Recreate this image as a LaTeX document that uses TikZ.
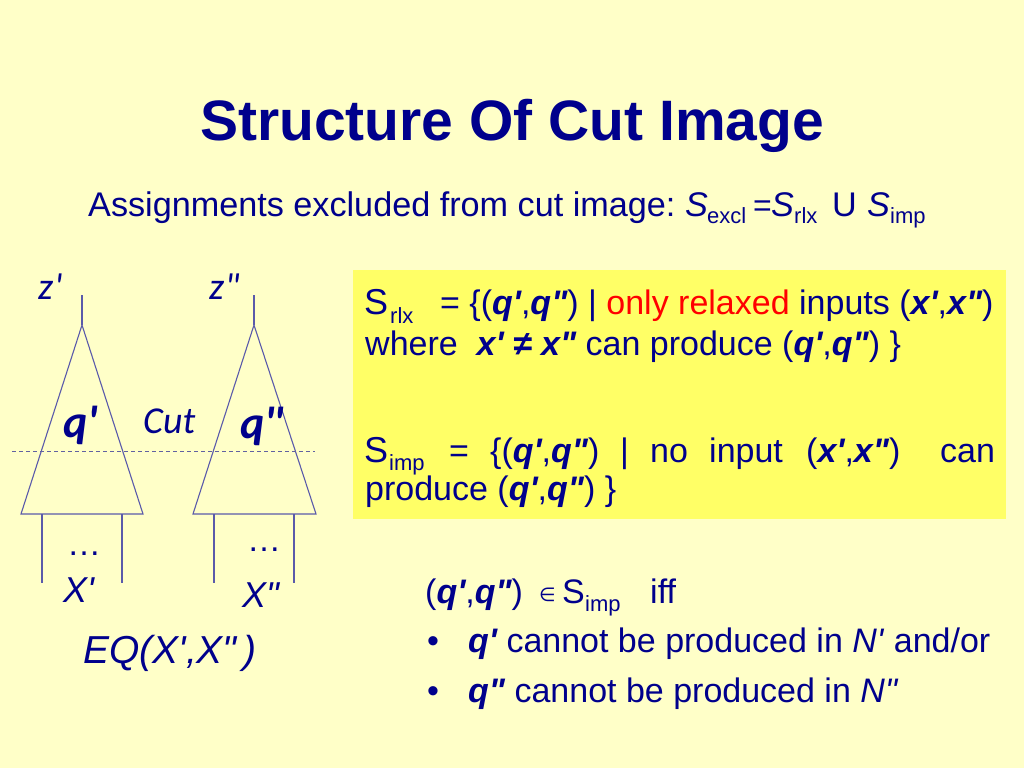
\documentclass[tikz,border=0pt]{standalone}
\usepackage{fontspec}
\newfontfamily\arial{Liberation Sans}
\newfontfamily\calib{Carlito}
\newfontfamily\djv{DejaVu Sans}
\definecolor{navy}{RGB}{0,0,140}
\definecolor{bgy}{RGB}{255,255,200}
\definecolor{boxy}{RGB}{255,255,102}
\definecolor{lnc}{RGB}{90,90,170}
\newcommand{\fs}[1]{\fontsize{#1}{#1}\selectfont}
\newcommand{\bq}[1]{{\bfseries\itshape #1}}
\begin{document}
\begin{tikzpicture}[x=1pt,y=-1pt,
  txt/.style={font=\arial\fs{34}, text=navy, anchor=base west, inner sep=0pt},
  sub/.style={font=\arial\fs{22}, text=navy, anchor=base west, inner sep=0pt},
  bigS/.style={font=\arial\fs{36}, text=navy, anchor=base west, inner sep=0pt},
  cal/.style={font=\calib\itshape\fs{38}, text=navy, anchor=base west, inner sep=0pt},
  tri/.style={draw=lnc, line width=1.1pt},
  cutline/.style={draw=lnc!80!gray, line width=0.9pt, dash pattern=on 4pt off 3pt}]
\useasboundingbox (0,0) rectangle (1024,768);
\fill[bgy] (0,0) rectangle (1024,768);
% title
\node[font=\arial\bfseries\fs{57}, text=navy, anchor=base, inner sep=0pt] (title) at (512,140) {Structure Of Cut Image};
% subtitle
\node[txt, font=\arial\fs{34.2}] (sub1) at (88,216) {Assignments excluded from cut image:};
\node[txt, font=\arial\itshape\fs{34.2}] (s1) at (685,216) {S};
\node[sub] (s1b) at (707,223) {excl};
\node[sub, font=\arial\fs{32}] (s1eq) at (753,216) {=};
\node[txt, font=\arial\itshape\fs{34.2}] (s2) at (771,216) {S};
\node[sub] (s2b) at (794,223) {rlx};
\node[txt, font=\arial\fs{34.2}] (s2u) at (832,216) {U};
\node[txt, font=\arial\itshape\fs{34.2}] (s3) at (867,216) {S};
\node[sub] (s3b) at (890,223) {imp};
% yellow box
\fill[boxy] (353,270) rectangle (1006,519);
\node[bigS] (r1) at (364,314) {S};
\node[sub] (r1b) at (390,323) {rlx};
\node[txt] (r1t) at (440,314) {= \{(\bq{q'},\bq{q"}) | \textcolor{red}{only relaxed} inputs (\bq{x'},\bq{x"})};
\node[txt] (r2t) at (365,355) {where\ \ \bq{x' ≠ x"} can produce (\bq{q'},\bq{q"}) \}};
\node[bigS] (i1) at (364,462) {S};
\node[sub] (i1b) at (389,470) {imp};
\node[txt] (i1eq) at (449,462) {=};
\node[txt] (i1a) at (490,462) {\{(\bq{q'},\bq{q"})};
\node[txt] (i1bar) at (620,462) {|};
\node[txt] (i1c) at (650,462) {no};
\node[txt] (i1d) at (709,462) {input};
\node[txt] (i1e) at (806,462) {(\bq{x'},\bq{x"})};
\node[txt] (i1f) at (940,462) {can};
\node[txt] (i2t) at (365,500) {produce (\bq{q'},\bq{q"}) \}};
% bottom right text
\node[txt] (b0) at (425,603) {(\bq{q'},\bq{q"})};
\node[txt, font=\djv\fs{19}] (b0in) at (539,601) {∈};
\node[txt] (b0s) at (562,603) {S};
\node[sub] (b0sb) at (585,611) {imp};
\node[txt] (b0iff) at (650,603) {iff};
\node[txt] (bul1) at (427,652) {•};
\node[txt] (b1) at (468,652) {\bq{q'} cannot be produced in \textit{N'} and/or};
\node[txt] (bul2) at (427,702) {•};
\node[txt] (b2) at (468,702) {\bq{q"} cannot be produced in \textit{N"}};
% left tree
\coordinate (lz) at (82,295);
\coordinate (la) at (82,325);
\coordinate (ll) at (21,514);
\coordinate (lr) at (143,514);
\draw[tri] (lz) -- (la);
\draw[tri] (la) -- (ll) -- (lr) -- cycle;
\coordinate (lw1) at (42,514); \coordinate (lw1e) at (42,583);
\coordinate (lw2) at (122,514); \coordinate (lw2e) at (122,583);
\draw[tri] (lw1) -- (lw1e);
\draw[tri] (lw2) -- (lw2e);
% right tree
\coordinate (rz) at (254,295);
\coordinate (ra) at (254,325);
\coordinate (rl) at (193,514);
\coordinate (rr) at (316,514);
\draw[tri] (rz) -- (ra);
\draw[tri] (ra) -- (rl) -- (rr) -- cycle;
\coordinate (rw1) at (214,514); \coordinate (rw1e) at (214,583);
\coordinate (rw2) at (294,514); \coordinate (rw2e) at (294,583);
\draw[tri] (rw1) -- (rw1e);
\draw[tri] (rw2) -- (rw2e);
% cut line
\coordinate (c1) at (12,451); \coordinate (c2) at (315,451);
\draw[cutline] (c1) -- (c2);
% tree labels
\node[cal] (zl) at (38,299) {z\kern1pt'};
\node[cal] (zr) at (209,299) {z\kern1pt'\kern-2pt'};
\node[cal, font=\calib\bfseries\itshape\fs{46}] (ql) at (63,437) {q'};
\node[cal] (cut) at (143,433) {Cut};
\node[cal, font=\calib\bfseries\itshape\fs{46}] (qr) at (240,438) {q'\kern-2pt'};
\node[txt] (dl) at (67,555) {…};
\node[txt] (dr) at (247,551) {…};
\node[txt, font=\arial\itshape\fs{36}] (xl) at (63,602) {X'};
\node[txt, font=\arial\itshape\fs{36}] (xr) at (242,607) {X"};
\node[txt, font=\arial\itshape\fs{39}] (eq) at (83,663) {EQ(X',X"\,)};
\end{tikzpicture}
\end{document}
